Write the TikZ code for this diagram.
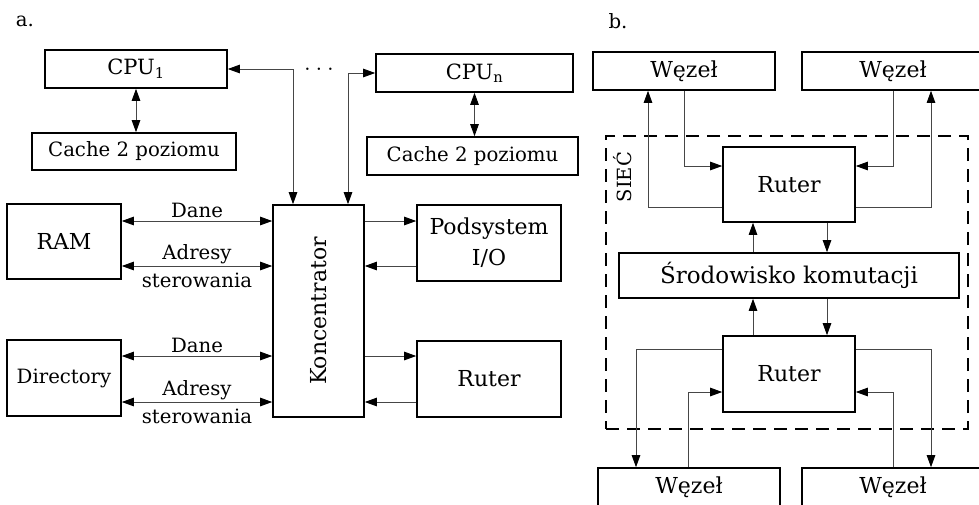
\documentclass[tikz,border=0pt]{standalone}
\usepackage{fontspec}
\usepackage{graphicx}
\setmainfont{DejaVu Serif}
\usepackage{tikz}
\usetikzlibrary{arrows.meta, positioning}
\definecolor{wiregray}{RGB}{70,70,70}

\begin{document}
\begin{tikzpicture}[x=1pt, y=-1pt,
    blk/.style={rectangle, draw, line width=1.6pt, inner sep=0pt, align=center, font=\fontsize{22}{31}\selectfont},
    smallblk/.style={blk, font=\fontsize{19.7}{24}\selectfont},
    lbl/.style={inner sep=0pt, anchor=base, font=\fontsize{19.7}{24}\selectfont},
    wire/.style={draw=wiregray, line width=0.9pt, -{Triangle[length=12pt, width=8.5pt, color=black]}},
    wire2/.style={wire, {Triangle[length=12pt, width=8.5pt, color=black]}-{Triangle[length=12pt, width=8.5pt, color=black]}},
    netbox/.style={rectangle, draw, line width=1.6pt, dash pattern=on 13pt off 8pt, inner sep=0pt},
]
\useasboundingbox (0,0) rectangle (979,504);
\clip (0,0) rectangle (979,504);

\node[font=\fontsize{19.7}{24}\selectfont] (labA) at (25,21.5) {a.};
\node[blk, minimum width=182pt, minimum height=38pt, font=\fontsize{21}{24}\selectfont] (cpuA) at (136,69) {CPU\textsubscript{1}};
\node[smallblk, minimum width=204pt, minimum height=37pt] (cacheA) at (134,151.5) {Cache 2 poziomu};
\node[blk, minimum width=197pt, minimum height=38pt, font=\fontsize{21}{24}\selectfont] (cpuN) at (474.5,73) {CPU\textsubscript{n}};
\node[smallblk, minimum width=211pt, minimum height=38pt] (cacheN) at (472.5,156) {Cache 2 poziomu};
\node[font=\fontsize{18}{22}\selectfont] (dots) at (319,71.5) {· · ·};
\node[blk, minimum width=91pt, minimum height=212pt] (konc) at (318.5,311) {\rotatebox{90}{Koncentrator}};
\node[blk, minimum width=114pt, minimum height=75pt] (ram) at (64,241.5) {RAM};
\node[smallblk, minimum width=114pt, minimum height=76pt] (dir) at (64,378) {Directory};
\node[blk, minimum width=144pt, minimum height=76pt] (io) at (489,243) {Podsystem\\I/O};
\node[blk, minimum width=144pt, minimum height=76pt] (rutA) at (489,379) {Ruter};

\draw[wire2] (cpuA.south) -- (cpuA.south |- cacheA.north);
\draw[wire2] (cpuN.south) -- (cpuN.south |- cacheN.north);
\draw[wire2] (cpuA.east) -| ([xshift=-25.5pt]konc.north);
\draw[wire2] (cpuN.west) -| ([xshift=29.5pt]konc.north);

\draw[wire2] ([yshift=20.5pt]ram.east) -- node[lbl, yshift=4pt] {Dane} ([yshift=20.5pt]ram.east -| konc.west);
\draw[wire2] ([yshift=-24.5pt]ram.east) -- node[lbl, yshift=6.5pt] {Adresy} node[lbl, yshift=-21pt] {sterowania} ([yshift=-24.5pt]ram.east -| konc.west);
\draw[wire2] ([yshift=22pt]dir.east) -- node[lbl, yshift=4pt] {Dane} ([yshift=22pt]dir.east -| konc.west);
\draw[wire2] ([yshift=-24pt]dir.east) -- node[lbl, yshift=6.5pt] {Adresy} node[lbl, yshift=-21pt] {sterowania} ([yshift=-24pt]dir.east -| konc.west);

\draw[wire] ([yshift=22pt]io.west -| konc.east) -- ([yshift=22pt]io.west);
\draw[wire] ([yshift=-23pt]io.west) -- ([yshift=-23pt]io.west -| konc.east);
\draw[wire] ([yshift=23pt]rutA.west -| konc.east) -- ([yshift=23pt]rutA.west);
\draw[wire] ([yshift=-23pt]rutA.west) -- ([yshift=-23pt]rutA.west -| konc.east);

\node[font=\fontsize{19.7}{24}\selectfont] (labB) at (618,21.5) {b.};
\node[netbox, minimum width=362pt, minimum height=293pt] (net) at (787,282.5) {};
\node[rotate=90, font=\fontsize{19.5}{24}\selectfont] (netLab) at (623,177) {SIEĆ};
\node[blk, minimum width=182pt, minimum height=38pt] (wezTL) at (684,71) {Węzeł};
\node[blk, minimum width=182pt, minimum height=38pt] (wezTR) at (893,71) {Węzeł};
\node[blk, minimum width=132pt, minimum height=75pt] (rutB) at (789,184.5) {Ruter};
\node[blk, minimum width=340pt, minimum height=45pt, font=\fontsize{23}{28}\selectfont] (srod) at (789,275.5) {Środowisko komutacji};
\node[blk, minimum width=132pt, minimum height=76pt] (rutC) at (789,374) {Ruter};
\node[blk, minimum width=182pt, minimum height=38pt] (wezBL) at (689,487) {Węzeł};
\node[blk, minimum width=182pt, minimum height=38pt] (wezBR) at (893,487) {Węzeł};

\draw[wire] ([yshift=-22.5pt]rutB.west) -| ([xshift=-36pt]wezTL.south);
\draw[wire] (wezTL.south) |- ([yshift=18.5pt]rutB.west);
\draw[wire] (wezTR.south) |- ([yshift=18.5pt]rutB.east);
\draw[wire] ([yshift=-22.5pt]rutB.east) -| ([xshift=38pt]wezTR.south);
\draw[wire] ([xshift=-36pt]srod.north) -- ([xshift=-36pt]rutB.south);
\draw[wire] ([xshift=38pt]rutB.south) -- ([xshift=38pt]srod.north);
\draw[wire] ([xshift=-36pt]rutC.north) -- ([xshift=-36pt]srod.south);
\draw[wire] ([xshift=38pt]srod.south) -- ([xshift=38pt]rutC.north);
\draw[wire] ([yshift=25pt]rutC.west) -| ([xshift=-53pt]wezBL.north);
\draw[wire] ([xshift=-1pt]wezBL.north) |- ([yshift=-18pt]rutC.west);
\draw[wire] (wezBR.north) |- ([yshift=-18pt]rutC.east);
\draw[wire] ([yshift=25pt]rutC.east) -| ([xshift=38pt]wezBR.north);
\end{tikzpicture}
\end{document}
